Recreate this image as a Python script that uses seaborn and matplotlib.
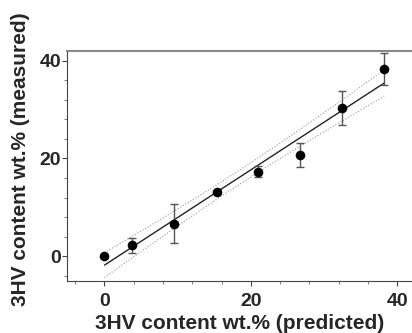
"""
Predicted vs. measured 3HV content with linear fit and confidence band.
"""

import numpy as np
import pandas as pd
import matplotlib
matplotlib.use("Agg")
import matplotlib.pyplot as plt
import seaborn as sns
from matplotlib.ticker import MultipleLocator

# Data
predicted = [0.0, 3.8, 9.5, 15.3, 21.0, 26.7, 32.4, 38.2]
measured = [0.0, 2.2, 6.6, 13.2, 17.3, 20.7, 30.3, 38.3]
measured_err = [0.0, 1.5, 4.0, 0.4, 1.2, 2.5, 3.5, 3.3]

x_label = "3HV content wt.% (predicted)"
y_label = "3HV content wt.% (measured)"
tick_values = [0, 20, 40]

df = pd.DataFrame({"predicted": predicted, "measured": measured, "err": measured_err})

sns.set_style("ticks")
plt.rcParams["font.family"] = ["Liberation Sans", "DejaVu Sans"]
plt.rcParams["font.weight"] = "bold"

fig = plt.figure(figsize=(4.12, 3.33), dpi=100)
ax = fig.add_axes([0.163, 0.156, 0.837, 0.691])

# Linear fit and confidence band (t quantile, 6 dof, 90%)
x = df["predicted"].to_numpy()
y = df["measured"].to_numpy()
slope, intercept = np.polyfit(x, y, 1)
resid = y - (slope * x + intercept)
n = len(x)
s = np.sqrt(np.sum(resid ** 2) / (n - 2))
sxx = np.sum((x - x.mean()) ** 2)
t_val = 1.943
xs = np.linspace(x.min(), x.max(), 100)
fit = slope * xs + intercept
half = t_val * s * np.sqrt(1.0 / n + (xs - x.mean()) ** 2 / sxx)

ax.plot(xs, fit, color="#222222", lw=1.0, zorder=2)
ax.plot(xs, fit + half, color="#999999", lw=0.8, ls=":", zorder=2)
ax.plot(xs, fit - half, color="#999999", lw=0.8, ls=":", zorder=2)

ax.errorbar(df["predicted"], df["measured"], yerr=df["err"], fmt="none",
            ecolor="#555555", elinewidth=1.0, capsize=3, capthick=1.0, zorder=3)
sns.scatterplot(data=df, x="predicted", y="measured", ax=ax, color="black",
                s=48, edgecolor="black", linewidth=0, zorder=4)

ax.set_xlim(-5.1, 42)
ax.set_ylim(-5.1, 42)
ax.set_xticks(tick_values)
ax.set_yticks(tick_values)
ax.xaxis.set_minor_locator(MultipleLocator(4))
ax.yaxis.set_minor_locator(MultipleLocator(4))

ax.tick_params(axis="both", which="major", labelsize=14, length=3.5, width=0.8,
               color="#444444")
ax.tick_params(axis="both", which="minor", length=2, width=0.6, color="#666666")
ax.tick_params(axis="x", which="major", pad=5)
ax.tick_params(axis="y", which="major", pad=1)
for lbl in ax.get_xticklabels() + ax.get_yticklabels():
    lbl.set_fontweight("bold")

ax.set_xlabel(x_label, fontsize=15, fontweight="bold")
ax.set_ylabel(y_label, fontsize=15, fontweight="bold")
ax.xaxis.set_label_coords(0.5, -0.145)
ax.yaxis.set_label_coords(-0.108, 0.53)

ax.spines["right"].set_visible(False)
ax.spines["top"].set_color("#888888")
ax.spines["top"].set_linewidth(1.5)
ax.spines["left"].set_color("#444444")
ax.spines["bottom"].set_color("#444444")
ax.spines["left"].set_linewidth(0.8)
ax.spines["bottom"].set_linewidth(0.8)

fig.savefig("out.png", dpi=100)
